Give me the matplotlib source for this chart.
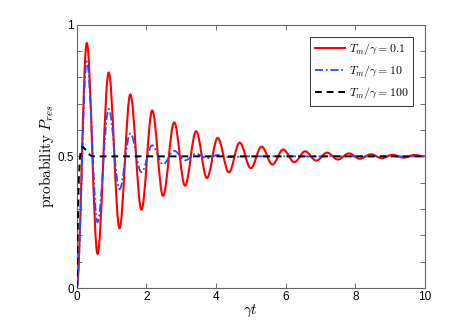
import matplotlib
matplotlib.use("Agg")
import matplotlib.pyplot as plt
from matplotlib.path import Path
from matplotlib.patches import PathPatch
from matplotlib.lines import Line2D
from matplotlib.ticker import MultipleLocator, FuncFormatter

plt.rcParams['mathtext.fontset'] = 'cm'
plt.rcParams['font.family'] = ['Liberation Sans', 'DejaVu Sans']

# turning points (times and values)
red_t = [0.0, 0.29, 0.60, 0.92, 1.23, 1.54, 1.86, 2.17, 2.48, 2.80, 3.11,
         3.43, 3.74, 4.05, 4.37, 4.68, 5.00, 5.31, 5.62, 5.93, 6.25, 6.56,
         6.88, 7.19, 7.50, 7.82, 8.13, 8.45, 8.76, 9.07, 9.39, 9.70, 10.0]
red_p = [0.0, 0.93, 0.13, 0.818, 0.227, 0.735, 0.298, 0.674, 0.35, 0.629,
         0.389, 0.595, 0.418, 0.57, 0.439, 0.552, 0.455, 0.537, 0.469, 0.526,
         0.478, 0.519, 0.484, 0.514, 0.488, 0.511, 0.491, 0.508, 0.493, 0.506,
         0.495, 0.505, 0.5]

blue_t = [0.0, 0.29, 0.60, 0.92, 1.23, 1.54, 1.86, 2.17, 2.48, 2.80, 3.11,
          3.43, 3.74, 4.05, 4.37, 5.0, 10.0]
blue_p = [0.0, 0.86, 0.25, 0.68, 0.375, 0.587, 0.44, 0.542, 0.47, 0.521,
          0.485, 0.51, 0.493, 0.505, 0.497, 0.5, 0.5]

black_t = [0.0, 0.03, 0.06, 0.09, 0.12, 0.17, 0.24, 0.32, 0.42, 0.55, 10.0]
black_p = [0.0, 0.22, 0.41, 0.49, 0.525, 0.537, 0.528, 0.512, 0.501, 0.5, 0.5]

labels = [r'$T_m/\gamma = 0.1$', r'$T_m/\gamma = 10$', r'$T_m/\gamma = 100$']


def turning_path(ts, ps, k=0.364):
    # smooth curve through the turning points, flat at each one
    verts = [(ts[0], ps[0])]
    codes = [Path.MOVETO]
    for i in range(len(ts) - 1):
        dt = ts[i + 1] - ts[i]
        verts += [(ts[i] + k * dt, ps[i]), (ts[i + 1] - k * dt, ps[i + 1]),
                  (ts[i + 1], ps[i + 1])]
        codes += [Path.CURVE4] * 3
    return Path(verts, codes)


fig = plt.figure(figsize=(4.69, 3.25), dpi=100)
ax = fig.add_axes([0.1635, 0.1138, 0.7425, 0.8102])

red_style = dict(color='#ff0000', lw=1.5, ls='-')
blue_style = dict(color='#2a4bff', lw=1.3, ls=(0, (4.5, 1.5, 1, 1.5)))
black_style = dict(color='black', lw=1.4, ls=(0, (3.5, 2.5)))

ax.add_patch(PathPatch(turning_path(red_t, red_p), fill=False,
                       edgecolor=red_style['color'], lw=red_style['lw'],
                       ls=red_style['ls'], zorder=2))
ax.add_patch(PathPatch(turning_path(blue_t, blue_p), fill=False,
                       edgecolor=blue_style['color'], lw=blue_style['lw'],
                       ls=blue_style['ls'], zorder=3))
ax.plot(black_t, black_p, zorder=4, **black_style)

ax.set_xlim(0, 10)
ax.set_ylim(0, 1)
ax.xaxis.set_major_locator(MultipleLocator(2))
ax.yaxis.set_major_locator(MultipleLocator(0.1))
ax.yaxis.set_major_formatter(FuncFormatter(
    lambda v, pos: {0: '0', 5: '0.5', 10: '1'}.get(int(round(v * 10)), '')))
ax.tick_params(direction='in', top=True, right=True, length=3.5,
               width=0.6, color='#555555', labelsize=8.5, pad=2)
for s in ax.spines.values():
    s.set_color('#666666')
    s.set_linewidth(0.8)

ax.set_xlabel(r'$\gamma t$', fontsize=11, labelpad=0)
ax.set_ylabel(r'$\mathrm{probability}\ P_{res}$', fontsize=11, labelpad=1)

handles = [Line2D([], [], **red_style), Line2D([], [], **blue_style),
           Line2D([], [], **black_style)]
leg = ax.legend(handles, labels, loc='upper right', fontsize=8.5,
                fancybox=False, framealpha=1, edgecolor='#333333',
                borderaxespad=1.0, handlelength=2.6, handletextpad=0.3,
                labelspacing=0.5, borderpad=0.4)
leg.get_frame().set_linewidth(0.7)

fig.savefig('out.png', dpi=100)
